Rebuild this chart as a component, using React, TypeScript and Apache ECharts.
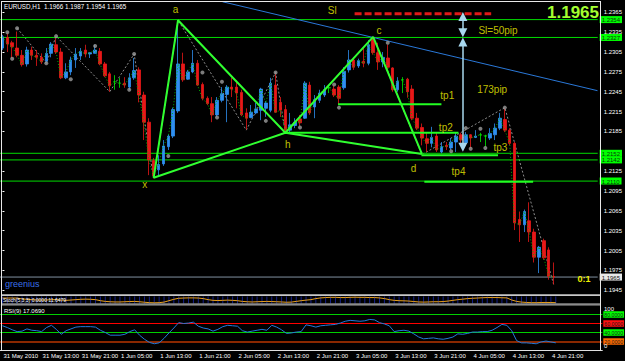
import React, { useEffect, useRef } from "react";
import * as echarts from "echarts";

// ---------- data ----------
const SLOTS = 123; // hourly slots incl. chart shift
const START_UTC = Date.UTC(2010, 4, 31, 5);
const MONTHS = ["Jan", "Feb", "Mar", "Apr", "May", "Jun", "Jul", "Aug", "Sep", "Oct", "Nov", "Dec"];
const categories = Array.from({ length: SLOTS }, (_, i) => {
  const d = new Date(START_UTC + i * 3600000);
  const hh = String(d.getUTCHours()).padStart(2, "0");
  return `${d.getUTCDate()} ${MONTHS[d.getUTCMonth()]} ${hh}:00`;
});
const timeLabels = [
  "31 May 2010", "31 May 13:00", "31 May 21:00", "1 Jun 05:00", "1 Jun 13:00", "1 Jun 21:00",
  "2 Jun 05:00", "2 Jun 13:00", "2 Jun 21:00", "3 Jun 05:00", "3 Jun 13:00", "3 Jun 21:00",
  "4 Jun 05:00", "4 Jun 13:00", "4 Jun 21:00",
];

// [open, high, low, close]
const candles: number[][] = [
  [1.2311, 1.2331, 1.2308, 1.2328], [1.2327, 1.2333, 1.2305, 1.2317], [1.2319, 1.2322, 1.2296, 1.2313],
  [1.2311, 1.2336, 1.2297, 1.2300], [1.2300, 1.2308, 1.2283, 1.2286], [1.2287, 1.2313, 1.2283, 1.2308],
  [1.2308, 1.2313, 1.2293, 1.2300], [1.2300, 1.2308, 1.2284, 1.2297], [1.2297, 1.2303, 1.2287, 1.2290],
  [1.2291, 1.2311, 1.2289, 1.2303], [1.2303, 1.2320, 1.2297, 1.2317], [1.2316, 1.2326, 1.2302, 1.2305],
  [1.2305, 1.2311, 1.2264, 1.2266], [1.2266, 1.2288, 1.2264, 1.2275], [1.2275, 1.2298, 1.2270, 1.2293],
  [1.2293, 1.2311, 1.2281, 1.2302], [1.2299, 1.2311, 1.2293, 1.2306], [1.2308, 1.2316, 1.2297, 1.2302],
  [1.2302, 1.2305, 1.2296, 1.2304], [1.2303, 1.2316, 1.2303, 1.2308], [1.2306, 1.2311, 1.2285, 1.2287],
  [1.2287, 1.2290, 1.2267, 1.2269], [1.2272, 1.2275, 1.2245, 1.2254], [1.2260, 1.2270, 1.2248, 1.2260],
  [1.2258, 1.2266, 1.2251, 1.2258], [1.2258, 1.2267, 1.2251, 1.2255], [1.2252, 1.2273, 1.2248, 1.2266],
  [1.2266, 1.2296, 1.2263, 1.2277], [1.2278, 1.2282, 1.2229, 1.2240], [1.2240, 1.2245, 1.2172, 1.2199],
  [1.2199, 1.2205, 1.2119, 1.2142], [1.2141, 1.2145, 1.2114, 1.2118], [1.2127, 1.2149, 1.2117, 1.2135],
  [1.2136, 1.2172, 1.2133, 1.2163], [1.2162, 1.2181, 1.2157, 1.2178], [1.2178, 1.2221, 1.2175, 1.2218],
  [1.2216, 1.2353, 1.2213, 1.2287], [1.2287, 1.2304, 1.2260, 1.2263], [1.2264, 1.2278, 1.2263, 1.2275],
  [1.2275, 1.2308, 1.2273, 1.2288], [1.2288, 1.2293, 1.2254, 1.2255], [1.2256, 1.2259, 1.2232, 1.2235],
  [1.2235, 1.2238, 1.2225, 1.2227], [1.2227, 1.2237, 1.2199, 1.2210], [1.2210, 1.2237, 1.2207, 1.2232],
  [1.2232, 1.2252, 1.2229, 1.2242], [1.2241, 1.2255, 1.2199, 1.2252], [1.2252, 1.2266, 1.2237, 1.2249],
  [1.2252, 1.2262, 1.2220, 1.2243], [1.2244, 1.2248, 1.2208, 1.2210], [1.2213, 1.2220, 1.2188, 1.2205],
  [1.2206, 1.2225, 1.2205, 1.2214], [1.2213, 1.2228, 1.2211, 1.2219], [1.2217, 1.2251, 1.2202, 1.2249],
  [1.2220, 1.2231, 1.2207, 1.2228], [1.2217, 1.2266, 1.2214, 1.2258], [1.2255, 1.2272, 1.2213, 1.2214],
  [1.2229, 1.2237, 1.2207, 1.2217], [1.2218, 1.2225, 1.2183, 1.2187], [1.2187, 1.2213, 1.2184, 1.2195],
  [1.2194, 1.2205, 1.2190, 1.2199], [1.2204, 1.2210, 1.2193, 1.2198], [1.2205, 1.2261, 1.2204, 1.2258],
  [1.2255, 1.2260, 1.2210, 1.2213], [1.2222, 1.2240, 1.2205, 1.2233], [1.2232, 1.2248, 1.2228, 1.2243],
  [1.2240, 1.2255, 1.2237, 1.2248], [1.2251, 1.2255, 1.2243, 1.2251], [1.2249, 1.2254, 1.2237, 1.2240],
  [1.2252, 1.2255, 1.2225, 1.2235], [1.2251, 1.2282, 1.2248, 1.2276], [1.2278, 1.2308, 1.2274, 1.2293],
  [1.2293, 1.2297, 1.2278, 1.2282], [1.2284, 1.2295, 1.2281, 1.2292], [1.2291, 1.2311, 1.2282, 1.2288],
  [1.2288, 1.2323, 1.2285, 1.2316], [1.2325, 1.2328, 1.2301, 1.2304], [1.2304, 1.2319, 1.2278, 1.2290],
  [1.2290, 1.2305, 1.2282, 1.2297], [1.2296, 1.2316, 1.2278, 1.2282], [1.2281, 1.2282, 1.2245, 1.2248],
  [1.2248, 1.2267, 1.2245, 1.2261], [1.2263, 1.2267, 1.2243, 1.2263], [1.2264, 1.2266, 1.2236, 1.2245],
  [1.2249, 1.2255, 1.2202, 1.2205], [1.2205, 1.2213, 1.2187, 1.2190], [1.2191, 1.2197, 1.2164, 1.2175],
  [1.2174, 1.2183, 1.2154, 1.2167], [1.2167, 1.2192, 1.2161, 1.2176], [1.2178, 1.2183, 1.2154, 1.2157],
  [1.2154, 1.2169, 1.2152, 1.2162], [1.2164, 1.2169, 1.2157, 1.2162], [1.2160, 1.2175, 1.2157, 1.2169],
  [1.2169, 1.2184, 1.2154, 1.2178], [1.2180, 1.2183, 1.2164, 1.2172], [1.2168, 1.2184, 1.2164, 1.2180],
  [1.2180, 1.2181, 1.2160, 1.2175], [1.2176, 1.2187, 1.2175, 1.2178], [1.2180, 1.2183, 1.2169, 1.2180],
  [1.2178, 1.2180, 1.2162, 1.2178], [1.2175, 1.2190, 1.2172, 1.2182], [1.2180, 1.2197, 1.2172, 1.2190],
  [1.2190, 1.2213, 1.2187, 1.2205], [1.2203, 1.2220, 1.2184, 1.2187], [1.2187, 1.2190, 1.2164, 1.2167],
  [1.2167, 1.2169, 1.2036, 1.2047], [1.2052, 1.2064, 1.2018, 1.2044], [1.2044, 1.2067, 1.2033, 1.2064],
  [1.2050, 1.2078, 1.2018, 1.2033], [1.2033, 1.2038, 1.1987, 1.1995], [1.1995, 1.2012, 1.1971, 1.2010],
  [1.2020, 1.2023, 1.1991, 1.1994], [1.2006, 1.2010, 1.1961, 1.1966], [1.1966, 1.1987, 1.1954, 1.1965],
];

const rsi = [
  55, 51, 46, 42, 43, 48, 45, 44, 42, 51, 56, 47, 36, 44, 48, 52, 53, 53, 53, 52,
  45, 40, 34, 34, 34, 36, 42, 46, 34, 25, 18, 15, 17, 27, 39, 50, 62, 60, 61, 63,
  54, 50, 48, 43, 47, 53, 56, 55, 54, 44, 41, 43, 45, 47, 45, 56, 52, 46, 38, 39,
  41, 42, 57, 55, 52, 55, 56, 57, 58, 61, 65, 67, 66, 65, 66, 69, 68, 62, 59, 55,
  42, 44, 45, 43, 37, 30, 26, 27, 28, 26, 25, 27, 30, 37, 36, 38, 41, 41, 42, 42,
  45, 51, 58, 56, 44, 22, 17, 17, 16, 15, 19, 21, 19, 17.069,
];

const stoch = [
  78, 78, 78, 78, 65, 60, 55, 50, 50, 50, 55, 55, 50, 45, 50, 55, 60, 62, 60, 55,
  40, 30, 25, 22, 22, 25, 28, 30, 25, 18, 12, 10, 12, 20, 40, 60, 75, 78, 80, 80,
  78, 70, 55, 45, 42, 45, 48, 45, 40, 30, 25, 22, 25, 28, 30, 28, 25, 22, 18, 20,
  30, 40, 48, 55, 70, 80, 85, 88, 88, 85, 85, 88, 90, 88, 88, 85, 85, 80, 70, 55,
  45, 40, 38, 35, 28, 22, 20, 22, 25, 25, 28, 35, 45, 55, 62, 70, 75, 78, 82, 85,
  85, 85, 82, 80, 50, 30, 20, 15, 12, 12, 14, 15, 14, 12,
];

const priceTicks = [1.2365, 1.2335, 1.2305, 1.2275, 1.2245, 1.2215, 1.2185, 1.2125, 1.2095, 1.2065, 1.2035, 1.2005, 1.1975, 1.1945];
const levelLines = [1.2354, 1.2327, 1.2152, 1.2142, 1.2110];
const bidPrice = 1.1965;

// harmonic pattern vertices [bar, price]
const patternXABCD = [[31, 1.2115], [36, 1.2353], [58, 1.2183], [76, 1.2328], [86, 1.2151]];
const patternXBD = [[31, 1.2115], [58, 1.2183], [86, 1.2151]];
// target lines [fromBar, toBar, price]
const tpLines = [[68.8, 90.0, 1.2226], [58.2, 93.5, 1.2183], [85.9, 101.6, 1.2149], [86.5, 108.8, 1.2109]];
const slLine = [[72.2, 1.2363], [100.2, 1.2363]];
const trendLine = [[45.1, 1.2381], [122.0, 1.22466]];
const fractals = [
  [1, 1.2335], [3, 1.2341], [2, 1.2295], [9, 1.2288], [11, 1.2329], [14, 1.2264], [19, 1.2314],
  [26, 1.2248], [27, 1.2302], [34, 1.2148], [41, 1.2274], [44, 1.2206], [45, 1.2260], [54, 1.2201],
  [56, 1.2274], [61, 1.2191], [68, 1.2256], [69, 1.2221], [79, 1.2319], [92, 1.2155], [95, 1.2190],
  [96, 1.2159], [98, 1.2189], [99, 1.2160], [103, 1.2221],
];
const zigzag = [
  [3, 1.2341], [9, 1.2288], [11, 1.2329], [22, 1.2245], [27, 1.2302], [31, 1.2114], [36, 1.2353],
  [50, 1.2187], [56, 1.2274], [58, 1.2183], [76, 1.2328], [86, 1.2150], [103, 1.2221], [113, 1.1954],
];
const arrowBar = 94.4;
const arrowLevels = { top: 1.23655, entry: 1.2327, target: 1.2154 };
// text annotations [bar, price, text]
const annotations: [number, number, string][] = [
  [35.5, 1.2369, "a"], [77.2, 1.2338, "c"], [58.5, 1.2166, "h"], [29.2, 1.2105, "x"], [84.3, 1.2129, "d"],
  [91.2, 1.2239, "tp1"], [90.9, 1.2191, "tp2"], [102.1, 1.2161, "tp3"], [93.5, 1.2124, "tp4"],
  [67.6, 1.2367, "Sl"], [101.6, 1.2337, "Sl=50pip"], [100.4, 1.2249, "173pip"],
];
const rsiLevels = [
  { v: 80, line: "#00d000", box: "#00ff00", text: "80.0000" },
  { v: 60, line: "#ff0000", box: "#ff1010", text: "60.0000" },
  { v: 40, line: "#00d000", box: "#00ff00", text: "40.0000" },
  { v: 20, line: "#8a2800", box: "#ff6a00", text: "20.0000" },
];

// ---------- chart ----------
const PRICE_MIN = 1.19394;
const PRICE_MAX = 1.23821;
const BULL = "#2f8ff0";
const BEAR = "#e81818";
const DOJI = "#00ee00";
const FONT = "Liberation Sans, Arial, sans-serif";

const near = (a: number, b: number) => Math.abs(a - b) < 1e-6;

export default function App() {
  const ref = useRef<HTMLDivElement>(null);
  useEffect(() => {
    if (!ref.current) return;
    const chart = echarts.init(ref.current, undefined, { renderer: "svg" });
    const gridLeft = -0.4;
    const gridWidth = 602.7;
    const labelEvery = (i: number) => i % 8 === 0 && i <= 112;

    const candleData = candles.map(([o, h, l, c]) => {
      const item: any = { value: [o, c, l, h] };
      if (o === c) item.itemStyle = { color: DOJI, borderColor: DOJI, color0: DOJI, borderColor0: DOJI };
      return item;
    });

    const series: any[] = [
      {
        type: "candlestick", xAxisIndex: 0, yAxisIndex: 0, data: candleData, barWidth: 3,
        itemStyle: { color: BULL, color0: BEAR, borderColor: BULL, borderColor0: BEAR, borderWidth: 0.8 },
        z: 3,
      },
      {
        type: "line", xAxisIndex: 0, yAxisIndex: 0, data: candles.map((c) => c[3]), symbol: "none",
        lineStyle: { color: "#00b000", width: 1, type: [1, 2] }, z: 4,
      },
      {
        type: "line", xAxisIndex: 1, yAxisIndex: 0, data: zigzag, symbol: "none",
        lineStyle: { color: "#8c8c8c", width: 1, type: [2, 2] }, z: 2,
      },
      {
        type: "scatter", xAxisIndex: 1, yAxisIndex: 0, data: fractals, symbolSize: 4,
        itemStyle: { color: "#9c9c9c" }, z: 4,
      },
      ...levelLines.map((p) => ({
        type: "line", xAxisIndex: 1, yAxisIndex: 0, data: [[-0.5, p], [122.04, p]], symbol: "none",
        lineStyle: { color: "#00dc00", width: 1 }, z: 2,
      })),
      {
        type: "line", xAxisIndex: 1, yAxisIndex: 0, data: [[-0.5, bidPrice], [122.04, bidPrice]], symbol: "none",
        lineStyle: { color: "#8090a0", width: 1 }, z: 2,
      },
      {
        type: "line", xAxisIndex: 1, yAxisIndex: 0, data: trendLine, symbol: "none",
        lineStyle: { color: "#2a78d8", width: 1 }, z: 2,
      },
      {
        type: "line", xAxisIndex: 1, yAxisIndex: 0, data: patternXABCD, symbol: "none",
        lineStyle: { color: "#30ff30", width: 2 }, z: 5,
      },
      {
        type: "line", xAxisIndex: 1, yAxisIndex: 0, data: patternXBD, symbol: "none",
        lineStyle: { color: "#30ff30", width: 2 }, z: 5,
      },
      ...tpLines.map(([a, b, p]) => ({
        type: "line", xAxisIndex: 1, yAxisIndex: 0, data: [[a, p], [b, p]], symbol: "none",
        lineStyle: { color: "#22ff22", width: 2 }, z: 5,
      })),
      {
        type: "line", xAxisIndex: 1, yAxisIndex: 0, data: slLine, symbol: "none",
        lineStyle: { color: "#e01818", width: 3, type: [7, 3] }, z: 5,
      },
      {
        type: "line", xAxisIndex: 1, yAxisIndex: 0, data: [], symbol: "none", z: 6,
        markLine: {
          silent: true, symbol: ["triangle", "triangle"], symbolSize: [9, 9],
          lineStyle: { color: "#a8d8ee", width: 1.5, type: "solid" },
          itemStyle: { color: "#a8d8ee" }, label: { show: false },
          data: [
            [{ coord: [arrowBar, arrowLevels.top - 0.0007] }, { coord: [arrowBar, arrowLevels.entry + 0.0007] }],
            [{ coord: [arrowBar, arrowLevels.entry - 0.0007] }, { coord: [arrowBar, arrowLevels.target + 0.0007] }],
          ],
        },
      },
      {
        type: "scatter", xAxisIndex: 1, yAxisIndex: 0, symbolSize: 0, z: 7,
        data: annotations.map(([b, p, t]) => ({ value: [b, p], name: t })),
        label: {
          show: true, position: "inside", formatter: (p: any) => p.name, color: "#f0f000",
          fontSize: 10, fontFamily: FONT,
        },
      },
      {
        type: "bar", xAxisIndex: 2, yAxisIndex: 1, data: candles.map(() => 100), barWidth: 1,
        itemStyle: { color: "#14208c" }, silent: true,
      },
      {
        type: "line", xAxisIndex: 2, yAxisIndex: 1, data: stoch, symbol: "none",
        lineStyle: { color: "#e8a020", width: 1 },
      },
      {
        type: "line", xAxisIndex: 3, yAxisIndex: 2, data: rsi, symbol: "none",
        lineStyle: { color: "#2478d8", width: 1 }, z: 5,
        markLine: {
          silent: true, symbol: "none",
          data: rsiLevels.map((l) => ({
            yAxis: l.v,
            lineStyle: { color: l.line, width: l.v === 20 ? 2 : 1, type: "solid" },
            label: {
              show: true, position: "end", formatter: l.text, distance: 1, color: "#1a1a1a",
              backgroundColor: l.box, fontSize: 5.2, fontFamily: FONT, padding: [1, 1, 0, 1], lineHeight: 5.5,
            },
          })),
        },
      },
    ];

    const option: any = {
      animation: false,
      backgroundColor: "#000000",
      grid: [
        { left: gridLeft, top: 1, width: gridWidth, height: 293 },
        { left: gridLeft, top: 296.5, width: gridWidth, height: 7 },
        { left: gridLeft, top: 305.5, width: gridWidth, height: 45 },
      ],
      xAxis: [
        { type: "category", gridIndex: 0, data: categories, show: false },
        { type: "value", gridIndex: 0, min: -0.5, max: SLOTS - 0.5, show: false },
        { type: "category", gridIndex: 1, data: categories, show: false },
        {
          type: "category", gridIndex: 2, data: categories,
          axisLine: { lineStyle: { color: "#e0e0e0", width: 1 } },
          axisTick: { alignWithLabel: true, interval: labelEvery, length: 2, lineStyle: { color: "#ffffff" } },
          axisLabel: {
            interval: labelEvery, formatter: (_v: string, i: number) => timeLabels[i / 8] || "",
            color: "#ffffff", fontSize: 6, fontFamily: FONT, align: "left", margin: 2.5, padding: [0, 0, 0, 1],
          },
          splitLine: { show: false },
        },
      ],
      yAxis: [
        {
          type: "value", gridIndex: 0, min: PRICE_MIN, max: PRICE_MAX, position: "right", offset: -2.3,
          splitLine: { show: false }, axisLine: { show: false },
          axisTick: { show: true, length: 2, customValues: priceTicks, lineStyle: { color: "#ffffff" } },
          axisLabel: {
            customValues: [...priceTicks, ...levelLines, bidPrice],
            margin: 2,
            formatter: (v: number) => {
              const s = v.toFixed(4);
              if (near(v, bidPrice)) return `{w|${s}}`;
              if (levelLines.some((l) => near(l, v))) return `{g|${s}}`;
              return `{n|${s}}`;
            },
            rich: {
              n: { color: "#ffffff", fontSize: 6, fontFamily: FONT, padding: [0, 0, 0, 4] },
              g: { color: "#0a3a0a", backgroundColor: "#00ff00", fontSize: 6, fontFamily: FONT, padding: [1, 2, 0, 2], lineHeight: 6 },
              w: { color: "#101010", backgroundColor: "#e8e8e8", fontSize: 6, fontFamily: FONT, padding: [1, 2, 0, 2], lineHeight: 6 },
            },
          },
        },
        { type: "value", gridIndex: 1, min: 0, max: 100, show: false },
        { type: "value", gridIndex: 2, min: 0, max: 100, show: false },
      ],
      series,
      graphic: [
        { type: "rect", shape: { x: 1, y: 294.3, width: 599, height: 1.8 }, style: { fill: "#c8c8c8" }, z: 50 },
        { type: "rect", shape: { x: 1, y: 303.4, width: 599, height: 1.3 }, style: { fill: "#c8c8c8" }, z: 50 },
        { type: "rect", shape: { x: 1, y: 304.7, width: 599, height: 1 }, style: { fill: "#6c6c6c" }, z: 50 },
        { type: "line", shape: { x1: 1.5, y1: 1, x2: 1.5, y2: 351 }, style: { stroke: "#e8e8e8", lineWidth: 1 }, z: 50 },
        { type: "line", shape: { x1: 600.5, y1: 1, x2: 600.5, y2: 351 }, style: { stroke: "#e8e8e8", lineWidth: 1 }, z: 50 },
        { type: "line", shape: { x1: 1, y1: 1.5, x2: 601, y2: 1.5 }, style: { stroke: "#e8e8e8", lineWidth: 1 }, z: 50 },
        {
          type: "text", x: 4, y: 6.3, z: 60,
          style: { text: "EURUSD,H1  1.1966 1.1987 1.1954 1.1965", fill: "#ffffff", fontSize: 6.3, fontFamily: FONT, verticalAlign: "middle" },
        },
        {
          type: "text", x: 599, y: 12.8, z: 60,
          style: { text: "1.1965", fill: "#a4ff30", fontSize: 17, fontWeight: "bold", fontFamily: FONT, align: "right", verticalAlign: "middle" },
        },
        {
          type: "text", x: 584, y: 279, z: 60,
          style: { text: "0:1", fill: "#f0f000", fontSize: 9, fontWeight: "bold", fontFamily: FONT, align: "center", verticalAlign: "middle" },
        },
        {
          type: "text", x: 5, y: 283.5, z: 60,
          style: { text: "greenius", fill: "#3a70e8", fontSize: 9, fontFamily: FONT, verticalAlign: "middle" },
        },
        {
          type: "text", x: 3, y: 299.8, z: 60,
          style: { text: "Stoch(5,3,3) 0.0000 11.6479", fill: "#ffffff", fontSize: 5, fontFamily: FONT, verticalAlign: "middle" },
        },
        {
          type: "text", x: 4, y: 311, z: 60,
          style: { text: "RSI(9) 17.0690", fill: "#ffffff", fontSize: 6, fontFamily: FONT, verticalAlign: "middle" },
        },
        {
          type: "text", x: 604, y: 309, z: 60,
          style: { text: "100", fill: "#ffffff", fontSize: 6, fontFamily: FONT, verticalAlign: "middle" },
        },
        {
          type: "text", x: 604, y: 346, z: 60,
          style: { text: "0", fill: "#ffffff", fontSize: 6, fontFamily: FONT, verticalAlign: "middle" },
        },
      ],
    };
    chart.setOption(option);
    return () => chart.dispose();
  }, []);
  return <div ref={ref} style={{ width: 625, height: 361, position: "absolute", left: 0, top: 0 }} />;
}
